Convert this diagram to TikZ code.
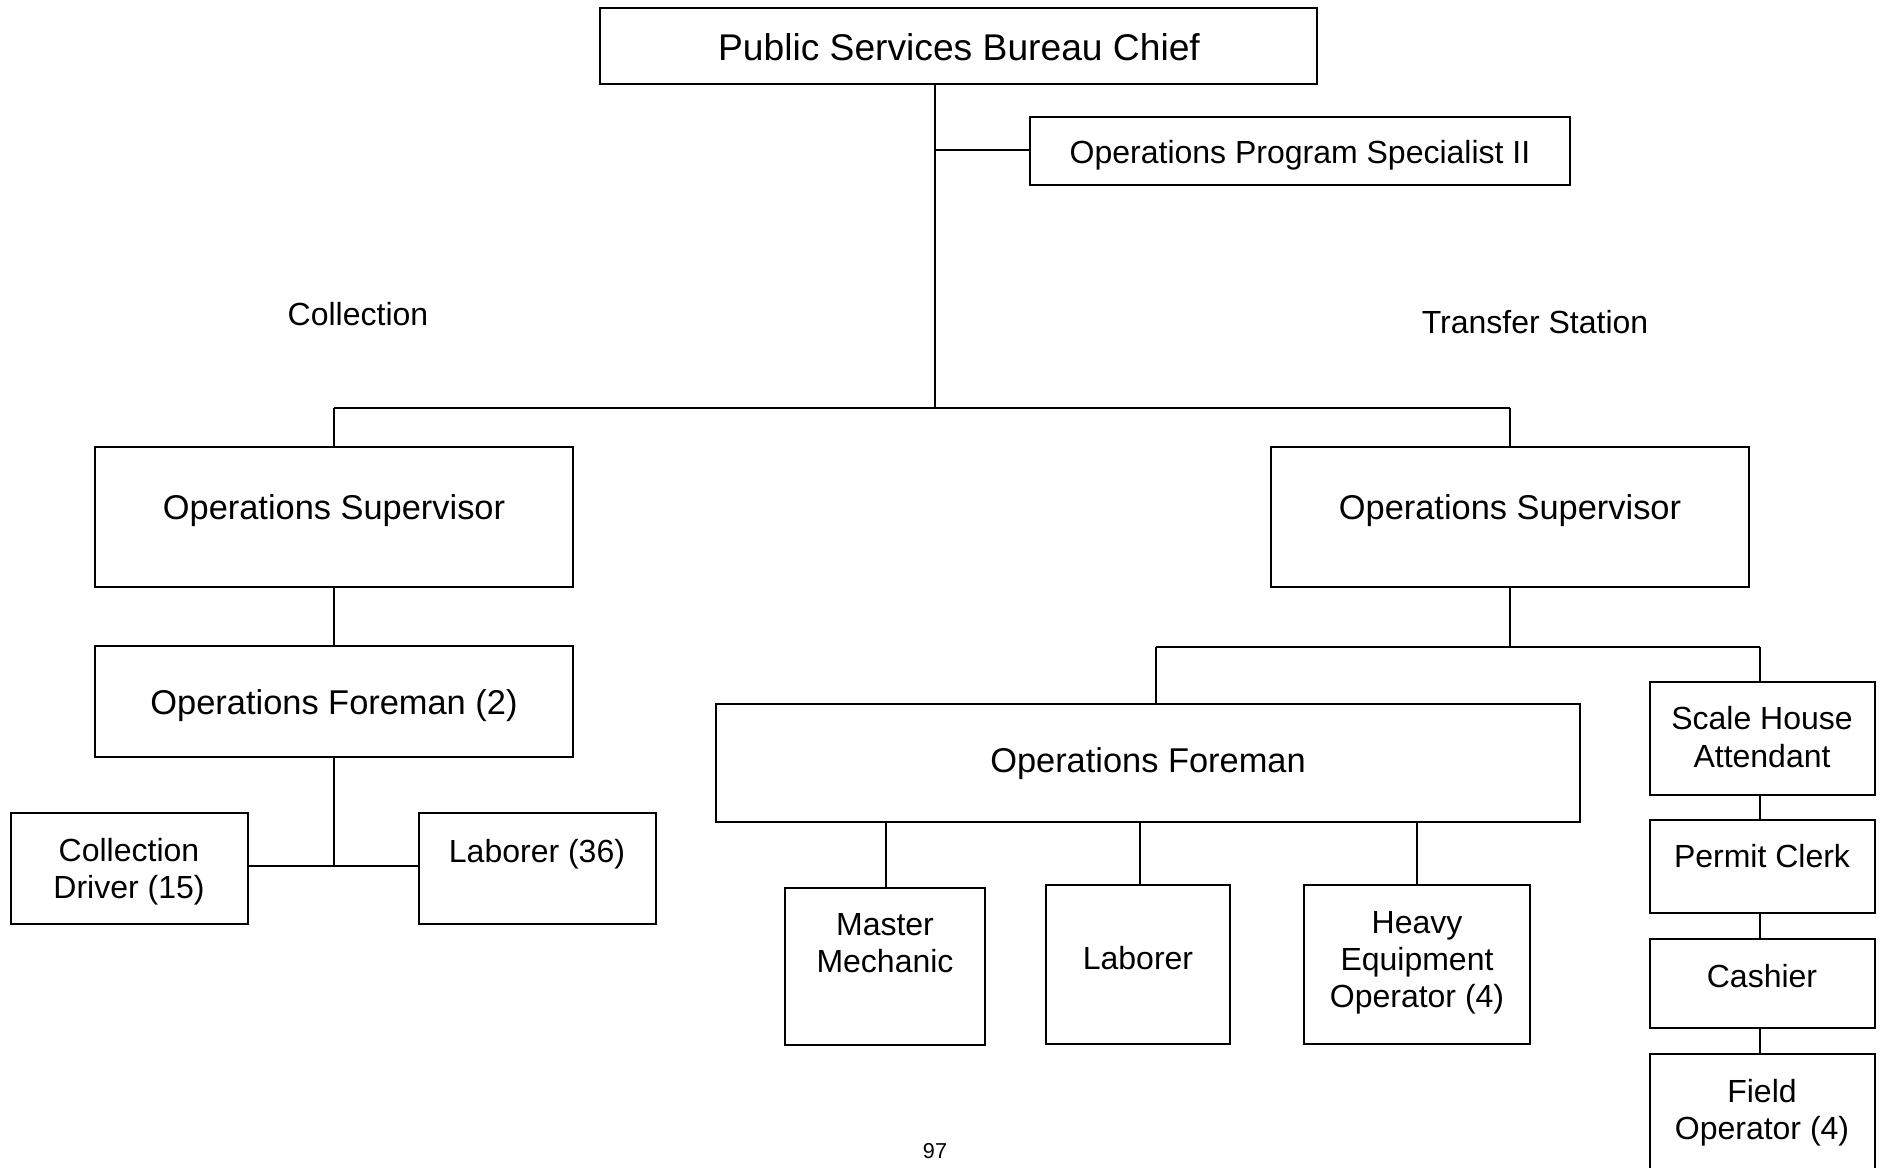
\documentclass[tikz,border=0pt]{standalone}
\usepackage{fontspec}
\setmainfont{Liberation Sans}
\usetikzlibrary{fit}
\begin{document}
\begin{tikzpicture}[x=0.5pt,y=-0.5pt,
  line width=1.2pt,
  boxst/.style={draw=black, line width=1.25pt, inner sep=0pt, rectangle},
  chieftxt/.style={font=\fontsize{18.6}{22}\selectfont, inner sep=0pt},
  bigtxt/.style={font=\fontsize{17.2}{20}\selectfont, inner sep=0pt},
  txt/.style={font=\fontsize{16}{18.6}\selectfont, inner sep=0pt, align=center},
  wire/.style={draw=black, line width=1.25pt}]
\useasboundingbox (0,0) rectangle (1886,1168);
\clip (0,0) rectangle (1886,1168);
\fill[white] (0,0) rectangle (1886,1168);

\newcommand\orgbox[5]{\node[boxst, fit={(#2,#3) (#4,#5)}] (#1) {};}

% boxes
\orgbox{chief}{600}{8}{1317}{84}
\orgbox{ops}{1030}{117}{1570}{185}
\orgbox{supL}{95}{447}{573}{587}
\orgbox{foreL}{95}{646}{573}{757}
\orgbox{driver}{11}{813}{248}{924}
\orgbox{labL}{419}{813}{656}{924}
\orgbox{supR}{1271}{447}{1749}{587}
\orgbox{foreR}{716}{704}{1580}{822}
\orgbox{mech}{785}{888}{985}{1045}
\orgbox{labR}{1046}{885}{1230}{1044}
\orgbox{heavy}{1304}{885}{1530}{1044}
\orgbox{scale}{1650}{682}{1875}{795}
\orgbox{permit}{1650}{820}{1875}{913}
\orgbox{cash}{1650}{939}{1875}{1028}
\orgbox{field}{1650}{1054}{1875}{1200}

% texts
\node[chieftxt] (tchief) at (959,47) {Public Services Bureau Chief};
\node[txt] (tops) at (1300,155) {Operations Program Specialist II};
\node[txt] (tcol) at (358,314) {Collection};
\node[txt] (ttrans) at (1535,322) {Transfer Station};
\node[bigtxt] (tsupL) at (334,511) {Operations Supervisor};
\node[bigtxt] (tforeL) at (334,706) {Operations Foreman (2)};
\node[txt] (tdriver) at (129,872) {Collection\\Driver (15)};
\node[txt] (tlabL) at (537,854) {Laborer (36)};
\node[bigtxt] (tsupR) at (1510,511) {Operations Supervisor};
\node[bigtxt] (tforeR) at (1148,764) {Operations Foreman};
\node[txt] (tmech) at (885,943) {Master\\Mechanic};
\node[txt] (tlabR) at (1138,958) {Laborer};
\node[txt] (theavy) at (1417,963) {Heavy\\Equipment\\Operator (4)};
\node[txt] (tscale) at (1762,737) {Scale House\\Attendant};
\node[txt] (tpermit) at (1762,856) {Permit Clerk};
\node[txt] (tcash) at (1762,976) {Cashier};
\node[txt] (tfield) at (1762,1113) {Field\\Operator (4)};
\node[font=\fontsize{10.8}{13}\selectfont, inner sep=0pt] (page) at (935,1151) {97};

% junction points
\coordinate (jtop) at (935,408);
\coordinate (jops) at (935,150);
\coordinate (jL) at (334,408);
\coordinate (jR) at (1510,408);
\coordinate (jcrew) at (334,866);
\coordinate (jtrans) at (1510,647);
\coordinate (jfore) at (1156,647);
\coordinate (jscale) at (1760,647);

% connectors
\draw[wire] (chief.south -| jtop) -- (jtop);
\draw[wire] (jops) -- (ops.west |- jops);
\draw[wire] (jL) -- (jR);
\draw[wire] (jL) -- (supL.north -| jL);
\draw[wire] (jR) -- (supR.north -| jR);
\draw[wire] (supL.south -| jL) -- (foreL.north -| jL);
\draw[wire] (foreL.south -| jcrew) -- (jcrew);
\draw[wire] (driver.east |- jcrew) -- (labL.west |- jcrew);
\draw[wire] (supR.south -| jtrans) -- (jtrans);
\draw[wire] (jfore) -- (jscale);
\draw[wire] (jfore) -- (foreR.north -| jfore);
\draw[wire] (jscale) -- (scale.north -| jscale);
\draw[wire] (foreR.south -| 886,0) -- (mech.north -| 886,0);
\draw[wire] (foreR.south -| 1140,0) -- (labR.north -| 1140,0);
\draw[wire] (foreR.south -| 1417,0) -- (heavy.north -| 1417,0);
\draw[wire] (scale.south -| jscale) -- (permit.north -| jscale);
\draw[wire] (permit.south -| jscale) -- (cash.north -| jscale);
\draw[wire] (cash.south -| jscale) -- (field.north -| jscale);
\end{tikzpicture}
\end{document}
